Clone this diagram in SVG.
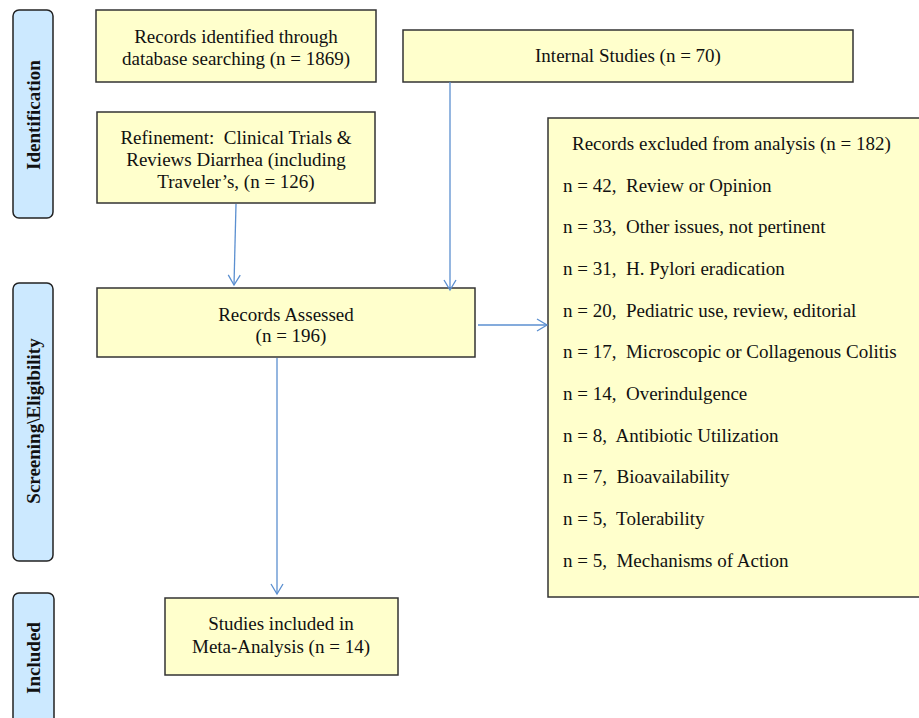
<svg xmlns="http://www.w3.org/2000/svg" width="919" height="718" viewBox="0 0 919 718" xml:space="preserve">
<style>
.box{fill:#ffffcc;stroke:#333;stroke-width:1.5}
.side{fill:#cce9ff;stroke:#222;stroke-width:1.5}
.t{font-family:"Liberation Serif","Times New Roman",serif;font-size:19px;fill:#111;white-space:pre}
.c{text-anchor:middle}
.s{font-family:"Liberation Serif","Times New Roman",serif;font-size:19px;font-weight:bold;fill:#111;text-anchor:middle}
.ln{stroke:#5b8fd0;stroke-width:1.3;fill:none}
</style>
<defs>
<marker id="ah" markerWidth="14" markerHeight="14" refX="11" refY="7" orient="auto" markerUnits="userSpaceOnUse">
<path d="M1,1 L11,7 L1,13" fill="none" stroke="#5b8fd0" stroke-width="1.3"/>
</marker>
</defs>
<g id="side-identification">
<rect class="side" x="13" y="10" width="40" height="208" rx="6"/>
<text class="s" transform="translate(40,115) rotate(-90)">Identification</text>
</g>
<g id="side-screening">
<rect class="side" x="13" y="283" width="40" height="278" rx="6"/>
<text class="s" transform="translate(40,421) rotate(-90)">Screening\Eligibility</text>
</g>
<g id="side-included">
<rect class="side" x="13" y="593" width="41" height="140" rx="6"/>
<text class="s" transform="translate(40,658) rotate(-90)">Included</text>
</g>
<g id="records-identified">
<rect class="box" x="96" y="10" width="280" height="72"/>
<text class="t c" x="236" y="43">Records identified through</text>
<text class="t c" x="236" y="65">database searching (n = 1869)</text>
</g>
<g id="internal-studies">
<rect class="box" x="403" y="30" width="450" height="52"/>
<text class="t c" x="628" y="62">Internal Studies (n = 70)</text>
</g>
<g id="refinement">
<rect class="box" x="97" y="112" width="278" height="91"/>
<text class="t c" x="236" y="144">Refinement:  Clinical Trials &amp;</text>
<text class="t c" x="236" y="166">Reviews Diarrhea (including</text>
<text class="t c" x="236" y="188">Traveler’s, (n = 126)</text>
</g>
<g id="records-excluded">
<rect class="box" x="548" y="118" width="380" height="479"/>
<text class="t" x="572" y="150">Records excluded from analysis (n = 182)</text>
<text class="t" x="563" y="192">n = 42,  Review or Opinion</text>
<text class="t" x="563" y="233">n = 33,  Other issues, not pertinent</text>
<text class="t" x="563" y="275">n = 31,  H. Pylori eradication</text>
<text class="t" x="563" y="317">n = 20,  Pediatric use, review, editorial</text>
<text class="t" x="563" y="358">n = 17,  Microscopic or Collagenous Colitis</text>
<text class="t" x="563" y="400">n = 14,  Overindulgence</text>
<text class="t" x="563" y="442">n = 8,  Antibiotic Utilization</text>
<text class="t" x="563" y="483">n = 7,  Bioavailability</text>
<text class="t" x="563" y="525">n = 5,  Tolerability</text>
<text class="t" x="563" y="567">n = 5,  Mechanisms of Action</text>
</g>
<g id="records-assessed">
<rect class="box" x="97" y="288" width="378" height="69"/>
<text class="t c" x="286" y="321">Records Assessed</text>
<text class="t c" x="291" y="342">(n = 196)</text>
</g>
<g id="studies-included">
<rect class="box" x="165" y="598" width="233" height="77"/>
<text class="t c" x="281" y="630">Studies included in</text>
<text class="t c" x="281" y="653">Meta-Analysis (n = 14)</text>
</g>
<g id="connectors">
<line class="ln" x1="236" y1="204" x2="234" y2="285" marker-end="url(#ah)"/>
<line class="ln" x1="450" y1="82" x2="450" y2="290" marker-end="url(#ah)"/>
<line class="ln" x1="478" y1="325" x2="547" y2="325" marker-end="url(#ah)"/>
<line class="ln" x1="277" y1="358" x2="277" y2="594" marker-end="url(#ah)"/>
</g>
</svg>
